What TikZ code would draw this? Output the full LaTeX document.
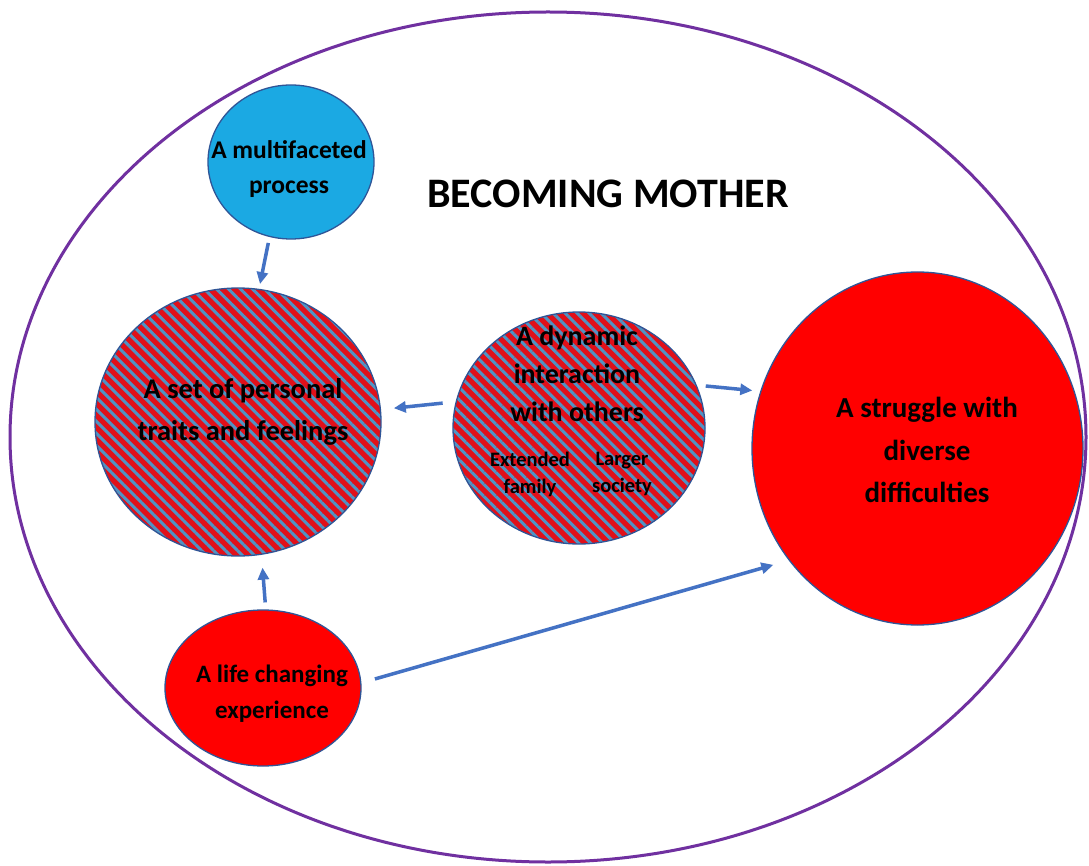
\documentclass[tikz,border=0pt]{standalone}
\usepackage{fontspec}
\setmainfont{Carlito}
\usetikzlibrary{shapes.geometric,arrows.meta,patterns.meta}
\definecolor{frame}{HTML}{7030A0}
\definecolor{edge}{HTML}{2F5597}
\definecolor{arrowblue}{HTML}{4472C4}
\definecolor{cyanfill}{HTML}{1BA9E3}
\definecolor{redfill}{HTML}{FF0000}
\definecolor{stripered}{HTML}{E0101A}
\definecolor{stripeblue}{HTML}{4F94C4}
\begin{document}
\begin{tikzpicture}[x=1pt,y=-1pt,
  bubble/.style={draw=edge, line width=1.3pt, ellipse, inner sep=0pt},
  hatch/.style={preaction={fill=stripered}, pattern={Lines[angle=-45,distance=8.5pt,line width=3pt]}, pattern color=stripeblue},
  lbl/.style 2 args={font=\bfseries\fontsize{#1}{#2}\selectfont, align=center, inner sep=0pt},
  sublbl/.style={font=\bfseries\fontsize{20.5}{27}\selectfont, align=center, inner sep=0pt},
  arr/.style={draw=arrowblue, line width=3.5pt, -{Triangle[length=12pt,width=11pt]}}]
\fill[white] (0,0) rectangle (1089,866);
\useasboundingbox (0,0) rectangle (1089,866);
\node[ellipse, draw=frame, line width=3pt, minimum width=1076pt, minimum height=850pt, inner sep=0pt] (frame) at (548,437) {};
\node[bubble, fill=cyanfill, minimum width=166pt, minimum height=154pt] (multi) at (291,162) {};
\node[bubble, hatch, minimum width=286pt, minimum height=268pt] (traits) at (238,422) {};
\node[bubble, hatch, minimum width=252pt, minimum height=232pt] (dyn) at (579,428) {};
\node[bubble, fill=redfill, minimum width=331pt, minimum height=353pt] (struggle) at (917.5,448.5) {};
\node[bubble, fill=redfill, minimum width=196pt, minimum height=156pt] (life) at (263,688) {};
\node[font=\bfseries\fontsize{42}{50}\selectfont, inner sep=0pt] (title) at (608,193.5) {BECOMING MOTHER};
\node[lbl={25.5}{35}] (multi-t) at (289,169) {A multifaceted\\process};
\node[lbl={28.5}{42}] (traits-t) at (243,412) {A set of personal\\traits and feelings};
\node[lbl={28}{38}] (dyn-t) at (577,374) {A dynamic\\interaction\\with others};
\node[sublbl] (family-t) at (530,474) {Extended\\family};
\node[sublbl] (society-t) at (622,474.4) {Larger\\society};
\node[lbl={29}{42.5}] (struggle-t) at (927,450) {A struggle with\\diverse\\difficulties};
\node[lbl={25}{36}] (life-t) at (272,694) {A life changing\\experience};
\draw[arr, shorten <=6pt, shorten >=4pt] (multi.-106) -- (traits.81);
\draw[arr, shorten <=13pt, shorten >=12pt] (dyn.168) -- (traits.5);
\draw[arr, shorten <=9pt, shorten >=8pt] (dyn.20) -- (struggle.160);
\draw[arr, shorten <=7pt, shorten >=12pt] (life.88) -- (traits.-80);
\draw[arr, shorten <=14pt, shorten >=16pt] (life.3) -- (struggle.221);
\end{tikzpicture}
\end{document}
